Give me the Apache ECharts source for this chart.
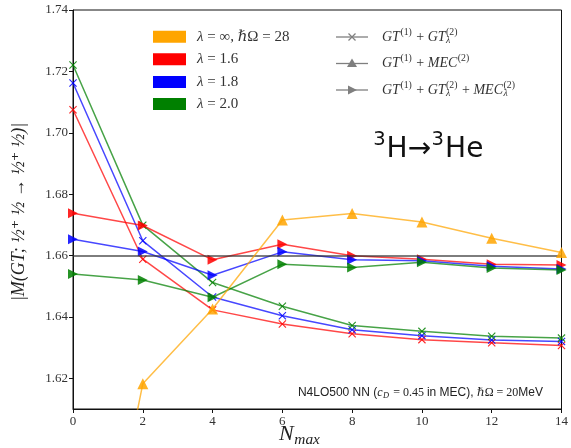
<!DOCTYPE html>
<html><head><meta charset="utf-8">
<script src="https://cdn.jsdelivr.net/npm/echarts@6/dist/echarts.min.js"></script>
<style>html,body{margin:0;padding:0;background:#fff}#c{width:571px;height:448px}</style>
</head><body><div id="c"></div>
<script>
// ---- data ----
const nmax = [0, 2, 4, 6, 8, 10, 12, 14];
const infMEC  = [1.505, 1.6182, 1.6426, 1.6716, 1.6737, 1.6709, 1.6656, 1.6610];
const l16GT   = [1.7075, 1.6588, 1.6423, 1.6377, 1.6345, 1.6326, 1.6316, 1.6307];
const l18GT   = [1.7162, 1.6648, 1.6465, 1.6404, 1.6358, 1.6339, 1.6325, 1.6320];
const l20GT   = [1.7221, 1.6699, 1.6512, 1.6435, 1.6372, 1.6353, 1.6337, 1.6331];
const l16Full = [1.6738, 1.6698, 1.6586, 1.6637, 1.6599, 1.6588, 1.6572, 1.6569];
const l18Full = [1.6653, 1.6613, 1.6536, 1.6612, 1.6586, 1.6583, 1.6565, 1.6556];
const l20Full = [1.6540, 1.6520, 1.6464, 1.6572, 1.6561, 1.6578, 1.6559, 1.6553];
const exptValue = 1.6563;
const yTicks = [1.62, 1.64, 1.66, 1.68, 1.70, 1.72, 1.74];

const ORANGE = '#FFA500', RED = '#FF0000', BLUE = '#0000FF', GREEN = '#008000';
const SERIF = '"Liberation Serif", "DejaVu Serif", serif';
const SANS = '"Liberation Sans", "DejaVu Sans", sans-serif';
const DSANS = '"DejaVu Sans", sans-serif';

const SYM_X = 'path://M0,1L1,0L5,4L9,0L10,1L6,5L10,9L9,10L5,6L1,10L0,9L4,5Z';
const SYM_R = 'path://M0,0L10,5L0,10Z';

function pairs(vals) { return nmax.map((n, i) => [n, vals[i]]); }
function mk(name, vals, color, symbol, size, z) {
  return {
    name, type: 'line', data: pairs(vals), symbol, symbolSize: size, z: z,
    lineStyle: { color, width: 1.5, opacity: 0.72 },
    itemStyle: { color, opacity: 0.85 },
    emphasis: { disabled: true }, animation: false
  };
}

// ---- text helpers ----
const mctx = document.createElement('canvas').getContext('2d');
function famOf(f) { return f === 'sans' ? SANS : (f === 'dsans' ? DSANS : SERIF); }
function tw(t, size, fam, ital) { mctx.font = (ital ? 'italic ' : '') + size + 'px ' + fam; return mctx.measureText(t).width; }
function txt(x, y, t, size, fam, ital, color) {
  return { type: 'text', x, y, silent: true, z: 100,
    style: { text: t, fontSize: size, fontFamily: fam, fontStyle: ital ? 'italic' : 'normal', fill: color, verticalAlign: 'middle', align: 'left' } };
}
function mathText(x, y, size, parts, color, els) {
  let cx = x;
  for (const p of parts) {
    const fam = famOf(p.f);
    if (p.t !== undefined) {
      const s = p.s || size;
      els.push(txt(cx, y, p.t, s, fam, p.i, color));
      cx += tw(p.t, s, fam, p.i);
    } else {
      const ss = size * 0.7; let mw = 0;
      if (p.sup !== undefined) { els.push(txt(cx + 0.5, y - size * 0.36, p.sup, ss, fam, p.supI, color)); mw = Math.max(mw, tw(p.sup, ss, fam, p.supI)); }
      if (p.sub !== undefined) { els.push(txt(cx + 0.5, y + size * 0.27, p.sub, ss, fam, p.subI, color)); mw = Math.max(mw, tw(p.sub, ss, fam, p.subI)); }
      cx += mw + 1.5;
    }
  }
  return cx - x;
}

const G = [];
// colour legend
const patchY = [36.7, 59.3, 82, 104];
const patchC = [ORANGE, RED, BLUE, GREEN];
const lamTexts = [
  [{ t: 'λ', i: true }, { t: ' = ∞, ' }, { t: 'ℏ', i: true }, { t: 'Ω = 28' }],
  [{ t: 'λ', i: true }, { t: ' = 1.6' }],
  [{ t: 'λ', i: true }, { t: ' = 1.8' }],
  [{ t: 'λ', i: true }, { t: ' = 2.0' }]
];
patchY.forEach((y, k) => {
  G.push({ type: 'rect', shape: { x: 153, y: y - 6, width: 33, height: 12 }, style: { fill: patchC[k] }, silent: true, z: 100 });
  mathText(197, y, 15, lamTexts[k], '#333', G);
});
// marker legend
const mY = [37, 63.5, 90];
const GRAY = '#7f7f7f';
mY.forEach(y => G.push({ type: 'line', shape: { x1: 336, y1: y, x2: 368, y2: y }, style: { stroke: GRAY, lineWidth: 1.3 }, silent: true, z: 100 }));
G.push({ type: 'line', shape: { x1: 348.5, y1: 33.5, x2: 355.5, y2: 40.5 }, style: { stroke: GRAY, lineWidth: 1.2 }, silent: true, z: 100 });
G.push({ type: 'line', shape: { x1: 348.5, y1: 40.5, x2: 355.5, y2: 33.5 }, style: { stroke: GRAY, lineWidth: 1.2 }, silent: true, z: 100 });
G.push({ type: 'polygon', shape: { points: [[352, 58.5], [357, 67], [347, 67]] }, style: { fill: GRAY }, silent: true, z: 100 });
G.push({ type: 'polygon', shape: { points: [[348, 85.5], [357, 90], [348, 94.5]] }, style: { fill: GRAY }, silent: true, z: 100 });
const mTexts = [
  [{ t: 'GT', i: true }, { sup: '(1)' }, { t: ' + ' }, { t: 'GT', i: true }, { sup: '(2)', sub: 'λ', subI: true }],
  [{ t: 'GT', i: true }, { sup: '(1)' }, { t: ' + ' }, { t: 'MEC', i: true }, { sup: '(2)' }],
  [{ t: 'GT', i: true }, { sup: '(1)' }, { t: ' + ' }, { t: 'GT', i: true }, { sup: '(2)', sub: 'λ', subI: true }, { t: ' + ' }, { t: 'MEC', i: true }, { sup: '(2)', sub: 'λ', subI: true }]
];
mY.forEach((y, k) => mathText(382, y, 14, mTexts[k], '#333', G));

// big reaction label
(function () {
  const parts = [{ sup: '3', f: 'dsans' }, { t: 'H→', f: 'dsans' }, { sup: '3', f: 'dsans' }, { t: 'He', f: 'dsans' }];
  const w = mathText(0, 0, 28, parts, '#111', []);
  mathText(428 - w / 2, 150, 28, parts, '#111', G);
})();

// bottom annotation, right end ~541
(function () {
  const parts = [
    { t: 'N4LO500 NN (', f: 'sans' }, { t: 'c', i: true }, { sub: 'D', subI: true }, { t: ' = 0.45 ' },
    { t: 'in MEC), ', f: 'sans' }, { t: 'ℏ', i: true }, { t: 'Ω = 20' }, { t: 'MeV', f: 'sans' }
  ];
  const w = mathText(0, 0, 12, parts, '#222', []);
  mathText(543 - w, 393, 12, parts, '#222', G);
})();

// x axis title N_max
(function () {
  const parts = [{ t: 'N', i: true }, { sub: 'max', subI: true }];
  const w = mathText(0, 0, 22, parts, '#222', []);
  mathText(300 - w / 2, 434, 22, parts, '#222', G);
})();

// y axis title
G.push({ type: 'text', x: 19, y: 212, rotation: Math.PI / 2, silent: true, z: 100,
  style: { text: '|M(GT; ½⁺ ½ → ½⁺ ½)|', fontSize: 18, fontFamily: SERIF, fontStyle: 'italic', fill: '#222', align: 'center', verticalAlign: 'middle' } });

const chart = echarts.init(document.getElementById('c'), null, { renderer: 'canvas' });
const series = [
  mk('l16GT', l16GT, RED, SYM_X, 8, 3),
  mk('l18GT', l18GT, BLUE, SYM_X, 8, 3),
  mk('l20GT', l20GT, GREEN, SYM_X, 8, 3),
  mk('l16Full', l16Full, RED, SYM_R, 10, 4),
  mk('l18Full', l18Full, BLUE, SYM_R, 10, 4),
  mk('l20Full', l20Full, GREEN, SYM_R, 10, 4),
  mk('infMEC', infMEC, ORANGE, 'triangle', 11, 5)
];
series[0].markLine = {
  silent: true, symbol: 'none', label: { show: false },
  lineStyle: { color: '#333', width: 1.6, type: 'solid', opacity: 0.85 },
  data: [{ yAxis: exptValue }]
};
chart.setOption({
  animation: false,
  grid: { left: 73, right: 6, top: 10, bottom: 39, show: true, borderColor: '#111', borderWidth: 1 },
  xAxis: {
    type: 'value', min: 0, max: 14, interval: 2,
    axisLine: { lineStyle: { color: '#111', width: 1 } },
    axisTick: { show: true, inside: false, length: 4, lineStyle: { color: '#111' } },
    axisLabel: { fontFamily: SERIF, fontSize: 13, color: '#333', margin: 6 },
    splitLine: { show: false }
  },
  yAxis: {
    type: 'value', min: 1.61, max: 1.74,
    axisLine: { show: true, lineStyle: { color: '#111', width: 1 } },
    axisTick: { show: true, inside: false, length: 4, lineStyle: { color: '#111' }, customValues: yTicks },
    axisLabel: { fontFamily: SERIF, fontSize: 13, color: '#333', margin: 5, customValues: yTicks, formatter: v => v.toFixed(2) },
    splitLine: { show: false }
  },
  series,
  graphic: G
});
</script></body></html>
